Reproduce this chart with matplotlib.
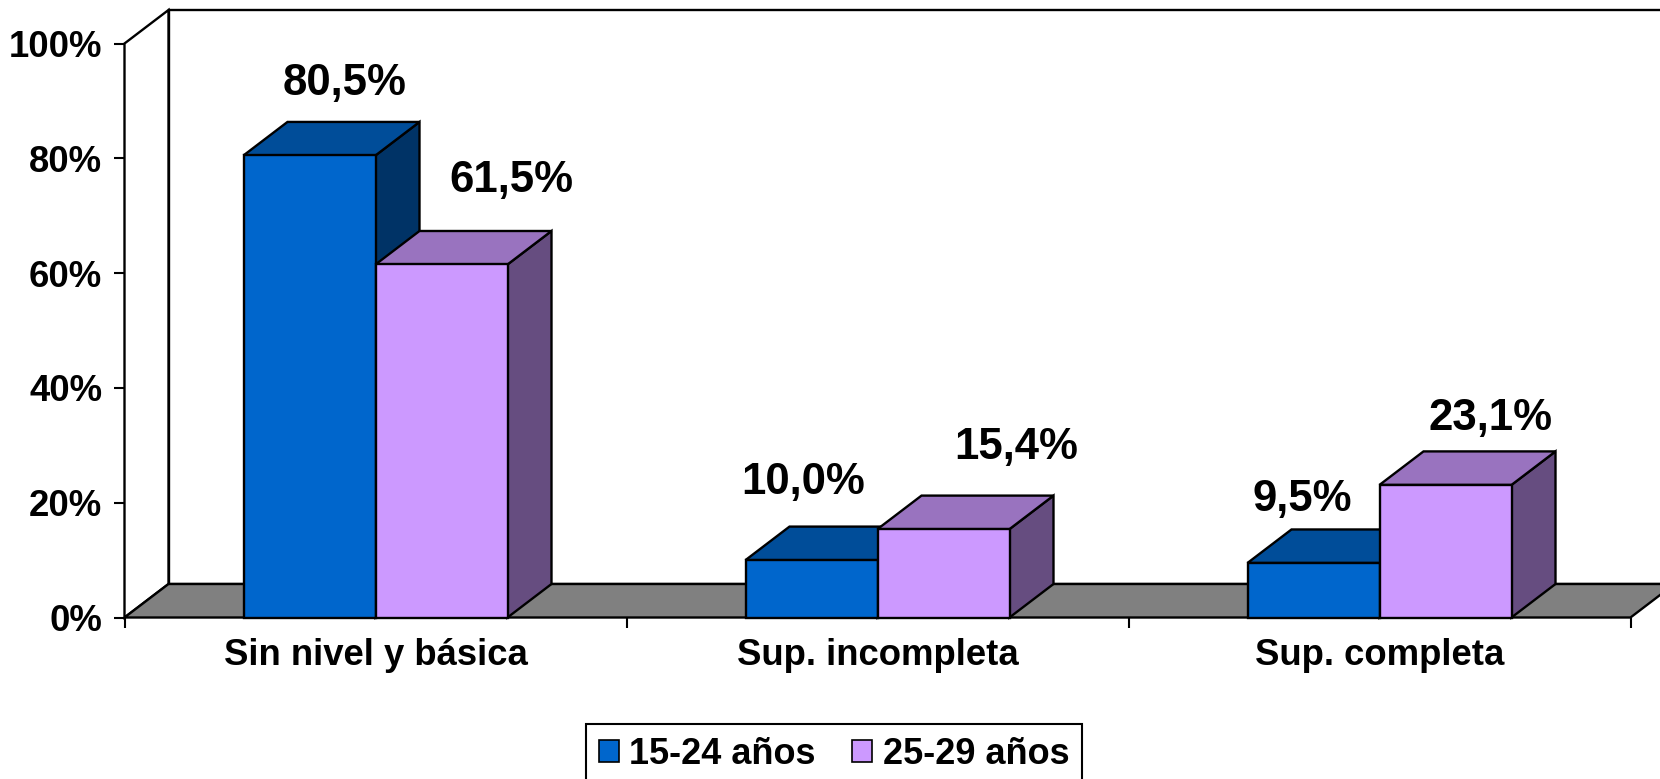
import numpy as np
import matplotlib
matplotlib.use("Agg")
import matplotlib.pyplot as plt
from matplotlib.patches import Rectangle, Polygon, Patch

plt.rcParams['font.family'] = ['Liberation Sans', 'DejaVu Sans']
plt.rcParams['font.weight'] = 'bold'

# data
categories = ['Sin nivel y básica', 'Sup. incompleta', 'Sup. completa']
series_names = ['15-24 años', '25-29 años']
vals_15_24 = [80.5, 10.0, 9.5]
vals_25_29 = [61.5, 15.4, 23.1]
yticks = [0, 20, 40, 60, 80, 100]

# label nudges (category units, percent) relative to bar top
lbl_dx = [[0.07, -0.017, -0.022], [0.14, 0.144, 0.089]]
lbl_dy = [[12.5, 13.6, 11.0], [14.7, 14.3, 11.6]]

front_cols = ['#0066CC', '#CC99FF']

def shade(hexcol, f):
    rgb = np.array(matplotlib.colors.to_rgb(hexcol))
    return tuple(rgb * f)

fig = plt.figure(figsize=(16.6, 7.79), dpi=100)
ax = fig.add_axes([124.5 / 1660, 161.5 / 779, 1506 / 1660, 574 / 779])
ax.set_xlim(0, 3)
ax.set_ylim(0, 100)
ax.patch.set_visible(False)
for s in ax.spines.values():
    s.set_visible(False)

# depth of the 3d box in data units
dx = 44 / 502.0
dy = 33.5 / 5.74
ncat = len(categories)
lw = 1.7

def add(p):
    p.set_clip_on(False)
    ax.add_patch(p)

# walls and floor
add(Rectangle((dx, dy), ncat, 100, facecolor='white', edgecolor='black', lw=lw))
add(Polygon([(0, 0), (dx, dy), (dx, 100 + dy), (0, 100)], closed=True,
            facecolor='white', edgecolor='black', lw=lw))
add(Polygon([(0, 0), (ncat, 0), (ncat + dx, dy), (dx, dy)], closed=True,
            facecolor='#808080', edgecolor='black', lw=lw))

bar_w = 132 / 502.0
centers = np.arange(ncat) + 0.5
series = [vals_15_24, vals_25_29]

for i in range(ncat):
    for j, vals in enumerate(series):
        h = vals[i]
        x0 = centers[i] - bar_w + j * bar_w
        col = front_cols[j]
        add(Polygon([(x0 + bar_w, 0), (x0 + bar_w + dx, dy),
                     (x0 + bar_w + dx, h + dy), (x0 + bar_w, h)], closed=True,
                    facecolor=shade(col, 0.5), edgecolor='black', lw=lw))
        add(Polygon([(x0, h), (x0 + bar_w, h), (x0 + bar_w + dx, h + dy),
                     (x0 + dx, h + dy)], closed=True,
                    facecolor=shade(col, 0.75), edgecolor='black', lw=lw))
        add(Rectangle((x0, 0), bar_w, h, facecolor=col, edgecolor='black', lw=lw))

# value labels
for i in range(ncat):
    for j, vals in enumerate(series):
        x0 = centers[i] - bar_w + j * bar_w
        txt = f"{vals[i]:.1f}%".replace('.', ',')
        ax.text(x0 + bar_w / 2 + lbl_dx[j][i], vals[i] + lbl_dy[j][i], txt,
                ha='center', va='center', fontsize=31.5, fontweight='bold',
                clip_on=False)

# axes ticks
ax.set_yticks(yticks)
ax.set_yticklabels([f"{v}%" for v in yticks])
ax.tick_params(axis='y', length=7.7, width=1.5, pad=8.4, labelsize=26.3)
ax.set_xticks(np.arange(ncat + 1))
ax.set_xticklabels([''] * (ncat + 1))
ax.tick_params(axis='x', which='major', length=7.2, width=1.5)
ax.set_xticks(centers, minor=True)
ax.set_xticklabels(categories, minor=True)
ax.tick_params(axis='x', which='minor', length=0, pad=15, labelsize=26.3)

handles = [Patch(facecolor=c, edgecolor='black', lw=1.2) for c in front_cols]
leg = fig.legend(handles, series_names, loc='upper center',
                 bbox_to_anchor=(834 / 1660, 1 - 724 / 779), ncol=2,
                 frameon=True, fancybox=False, edgecolor='black', framealpha=1,
                 prop={'size': 26, 'weight': 'bold'},
                 handlelength=0.55, handleheight=0.55, handletextpad=0.3,
                 columnspacing=1.0, borderpad=0.35, borderaxespad=0)
leg.get_frame().set_linewidth(1.5)

fig.savefig('out.png', dpi=100)
